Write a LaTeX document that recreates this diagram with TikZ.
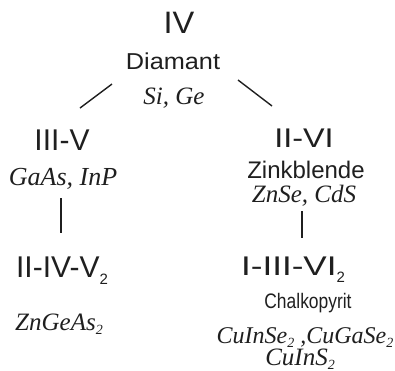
\documentclass[tikz,border=0pt]{standalone}
\usepackage{fontspec}
\setmainfont{Liberation Sans}
\newfontfamily\tms{Liberation Serif}
\usepackage{graphicx}
\newcommand{\fs}[1]{\fontsize{#1}{#1}\selectfont}
\newcommand{\isub}[1]{\raisebox{-4pt}{\fs{14}#1}}
\newcommand{\ssub}[1]{\raisebox{-7pt}{\fs{15}#1}}
\tikzset{
  lbl/.style={anchor=base, inner sep=0pt, outer sep=0pt, text=black!88},
  big/.style={lbl, font=\fs{30}},
  small/.style={lbl, font=\fs{23}},
  ital/.style={lbl, font=\tms\itshape\fs{25}},
  link/.style={line width=1.4pt, black!88},
}
\begin{document}
\begin{tikzpicture}[x=1pt, y=-1pt]
\useasboundingbox (0,0) rectangle (395,370);
% top level
\node[big, font=\fs{31}] (iv) at (179,33) {\scalebox{1.05}[1]{IV}};
\node[small] (diam) at (173,69) {\scalebox{1.1}[1]{Diamant}};
\node[ital] (sige) at (174,104) {Si, Ge};
% left branch
\node[big] (iiiv) at (62,150) {III-V};
\node[ital, font=\tms\itshape\fs{26}] (gaas) at (63,185) {GaAs, InP};
\node[big] (iiivv) at (62,277) {II-IV-V\ssub{2}};
\node[ital] (zngeas) at (59,330) {ZnGeAs\isub{2}};
% right branch
\node[big, font=\fs{27}] (iivi) at (304,147) {\scalebox{1.2}[1]{II-VI}};
\node[small, font=\fs{24}] (zink) at (306,178) {Zinkblende};
\node[ital] (znse) at (304,202) {ZnSe, CdS};
\node[big, font=\fs{27}] (iiiivi) at (293,275) {\scalebox{1.3}[1]{I-III-VI}\ssub{2}};
\node[small, font=\fs{21}] (chalk) at (308,308) {\scalebox{0.83}[1]{Chalkopyrit}};
\node[ital, font=\tms\itshape\fs{24}] (cuinse) at (305,343) {CuInSe\isub{2} ,CuGaSe\isub{2}};
\node[ital, font=\tms\itshape\fs{25}] (cuins) at (300,365) {CuInS\isub{2}};
% connector ends
\coordinate (l1a) at (80,108);  \coordinate (l1b) at (112,84);
\coordinate (r1a) at (238,80);  \coordinate (r1b) at (272,106);
\coordinate (l2a) at (61,198);  \coordinate (l2b) at (61,233);
\coordinate (r2a) at (302,211); \coordinate (r2b) at (302,238);
\draw[link] (l1a) -- (l1b);
\draw[link] (r1a) -- (r1b);
\draw[link] (l2a) -- (l2b);
\draw[link] (r2a) -- (r2b);
\end{tikzpicture}
\end{document}
